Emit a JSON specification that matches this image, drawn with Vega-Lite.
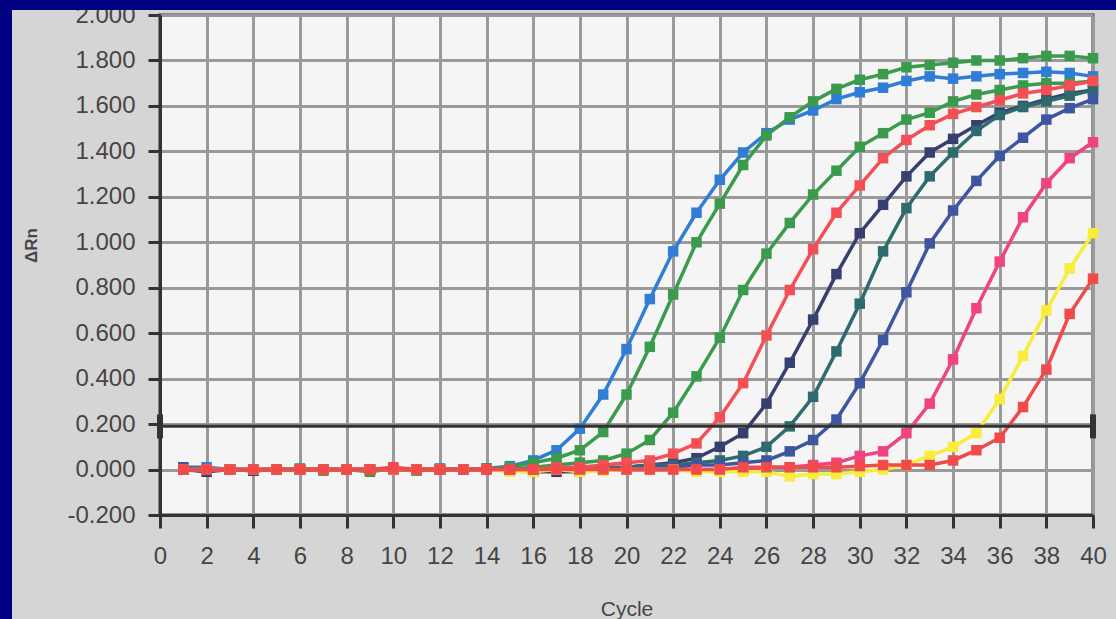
{
  "$schema": "https://vega.github.io/schema/vega-lite/v6.json",
  "width": 933,
  "height": 500,
  "autosize": {"type": "none"},
  "padding": {"left": 160, "top": 15, "right": 23, "bottom": 104},
  "background": "#d5d5d5",
  "config": {
    "view": {"fill": "#f5f5f5", "stroke": "#333333", "strokeWidth": 3},
    "font": "Liberation Sans"
  },
  "data": {
    "values": [
      {"c": 1, "blue": 0.01, "green1": 0.0, "green2": 0.0, "navy": 0.0, "teal": 0.0, "indigo": 0.01, "pink": 0.0, "yellow": 0.0, "red": 0.0, "red2": 0.0},
      {"c": 2, "blue": 0.01, "green1": 0.0, "green2": 0.0, "navy": -0.01, "teal": 0.0, "indigo": 0.0, "pink": 0.0, "yellow": 0.0, "red": 0.0, "red2": 0.0},
      {"c": 3, "blue": 0.0, "green1": 0.0, "green2": 0.0, "navy": 0.0, "teal": 0.0, "indigo": 0.0, "pink": 0.0, "yellow": 0.0, "red": 0.0, "red2": 0.0},
      {"c": 4, "blue": 0.0, "green1": -0.005, "green2": 0.0, "navy": -0.005, "teal": 0.0, "indigo": 0.0, "pink": 0.0, "yellow": 0.0, "red": 0.0, "red2": 0.0},
      {"c": 5, "blue": 0.0, "green1": 0.0, "green2": 0.0, "navy": 0.0, "teal": 0.0, "indigo": 0.0, "pink": 0.0, "yellow": 0.0, "red": 0.0, "red2": 0.0},
      {"c": 6, "blue": 0.0, "green1": 0.0, "green2": 0.005, "navy": 0.0, "teal": 0.0, "indigo": 0.0, "pink": 0.0, "yellow": 0.0, "red": 0.0, "red2": 0.0},
      {"c": 7, "blue": 0.0, "green1": -0.005, "green2": 0.0, "navy": 0.0, "teal": 0.0, "indigo": 0.0, "pink": 0.0, "yellow": 0.0, "red": 0.0, "red2": 0.0},
      {"c": 8, "blue": 0.0, "green1": 0.0, "green2": 0.0, "navy": 0.0, "teal": 0.0, "indigo": 0.0, "pink": 0.0, "yellow": 0.0, "red": 0.0, "red2": 0.0},
      {"c": 9, "blue": 0.0, "green1": -0.01, "green2": 0.0, "navy": 0.0, "teal": 0.0, "indigo": 0.0, "pink": 0.0, "yellow": 0.0, "red": 0.0, "red2": 0.0},
      {"c": 10, "blue": 0.0, "green1": 0.005, "green2": 0.0, "navy": 0.0, "teal": 0.0, "indigo": 0.0, "pink": 0.0, "yellow": 0.0, "red": 0.0, "red2": 0.01},
      {"c": 11, "blue": 0.0, "green1": -0.005, "green2": 0.0, "navy": 0.0, "teal": 0.0, "indigo": 0.0, "pink": 0.0, "yellow": 0.0, "red": 0.0, "red2": 0.0},
      {"c": 12, "blue": 0.005, "green1": 0.0, "green2": 0.0, "navy": 0.0, "teal": 0.0, "indigo": 0.0, "pink": 0.0, "yellow": 0.0, "red": 0.0, "red2": 0.0},
      {"c": 13, "blue": 0.0, "green1": 0.0, "green2": 0.0, "navy": 0.0, "teal": 0.0, "indigo": 0.0, "pink": 0.0, "yellow": 0.0, "red": 0.0, "red2": 0.0},
      {"c": 14, "blue": 0.005, "green1": 0.005, "green2": 0.0, "navy": 0.0, "teal": 0.0, "indigo": 0.0, "pink": 0.0, "yellow": 0.0, "red": 0.0, "red2": 0.0},
      {"c": 15, "blue": 0.015, "green1": 0.01, "green2": 0.0, "navy": -0.005, "teal": 0.0, "indigo": 0.0, "pink": 0.0, "yellow": -0.01, "red": 0.0, "red2": 0.0},
      {"c": 16, "blue": 0.04, "green1": 0.03, "green2": 0.01, "navy": -0.01, "teal": 0.0, "indigo": 0.0, "pink": 0.0, "yellow": -0.01, "red": 0.0, "red2": 0.0},
      {"c": 17, "blue": 0.085, "green1": 0.05, "green2": 0.02, "navy": -0.01, "teal": 0.0, "indigo": 0.0, "pink": 0.0, "yellow": 0.0, "red": 0.01, "red2": 0.0},
      {"c": 18, "blue": 0.18, "green1": 0.085, "green2": 0.03, "navy": -0.01, "teal": 0.0, "indigo": 0.0, "pink": 0.0, "yellow": -0.01, "red": 0.01, "red2": 0.0},
      {"c": 19, "blue": 0.33, "green1": 0.165, "green2": 0.04, "navy": 0.0, "teal": 0.01, "indigo": 0.0, "pink": 0.0, "yellow": -0.005, "red": 0.02, "red2": 0.0},
      {"c": 20, "blue": 0.53, "green1": 0.33, "green2": 0.07, "navy": 0.01, "teal": 0.01, "indigo": 0.0, "pink": 0.0, "yellow": 0.0, "red": 0.03, "red2": 0.0},
      {"c": 21, "blue": 0.75, "green1": 0.54, "green2": 0.13, "navy": 0.02, "teal": 0.02, "indigo": 0.01, "pink": 0.0, "yellow": 0.0, "red": 0.04, "red2": 0.0},
      {"c": 22, "blue": 0.96, "green1": 0.77, "green2": 0.25, "navy": 0.03, "teal": 0.02, "indigo": 0.01, "pink": 0.0, "yellow": 0.0, "red": 0.07, "red2": 0.0},
      {"c": 23, "blue": 1.13, "green1": 1.0, "green2": 0.41, "navy": 0.05, "teal": 0.03, "indigo": 0.02, "pink": 0.0, "yellow": -0.01, "red": 0.115, "red2": 0.0},
      {"c": 24, "blue": 1.275, "green1": 1.17, "green2": 0.58, "navy": 0.1, "teal": 0.04, "indigo": 0.02, "pink": 0.0, "yellow": -0.01, "red": 0.23, "red2": 0.0},
      {"c": 25, "blue": 1.395, "green1": 1.34, "green2": 0.79, "navy": 0.16, "teal": 0.06, "indigo": 0.03, "pink": 0.0, "yellow": -0.01, "red": 0.38, "red2": 0.01},
      {"c": 26, "blue": 1.48, "green1": 1.47, "green2": 0.95, "navy": 0.29, "teal": 0.1, "indigo": 0.04, "pink": 0.01, "yellow": -0.01, "red": 0.59, "red2": 0.01},
      {"c": 27, "blue": 1.54, "green1": 1.55, "green2": 1.085, "navy": 0.47, "teal": 0.19, "indigo": 0.08, "pink": 0.01, "yellow": -0.03, "red": 0.79, "red2": 0.01},
      {"c": 28, "blue": 1.58, "green1": 1.62, "green2": 1.21, "navy": 0.66, "teal": 0.32, "indigo": 0.13, "pink": 0.02, "yellow": -0.02, "red": 0.97, "red2": 0.01},
      {"c": 29, "blue": 1.63, "green1": 1.675, "green2": 1.315, "navy": 0.86, "teal": 0.52, "indigo": 0.22, "pink": 0.03, "yellow": -0.02, "red": 1.13, "red2": 0.01},
      {"c": 30, "blue": 1.66, "green1": 1.715, "green2": 1.42, "navy": 1.04, "teal": 0.73, "indigo": 0.38, "pink": 0.06, "yellow": -0.01, "red": 1.25, "red2": 0.015},
      {"c": 31, "blue": 1.68, "green1": 1.74, "green2": 1.48, "navy": 1.165, "teal": 0.96, "indigo": 0.57, "pink": 0.08, "yellow": 0.0, "red": 1.37, "red2": 0.02},
      {"c": 32, "blue": 1.71, "green1": 1.77, "green2": 1.54, "navy": 1.29, "teal": 1.15, "indigo": 0.78, "pink": 0.16, "yellow": 0.02, "red": 1.45, "red2": 0.02},
      {"c": 33, "blue": 1.73, "green1": 1.78, "green2": 1.57, "navy": 1.395, "teal": 1.29, "indigo": 0.995, "pink": 0.29, "yellow": 0.06, "red": 1.515, "red2": 0.02},
      {"c": 34, "blue": 1.72, "green1": 1.79, "green2": 1.62, "navy": 1.455, "teal": 1.395, "indigo": 1.14, "pink": 0.485, "yellow": 0.1, "red": 1.565, "red2": 0.04},
      {"c": 35, "blue": 1.73, "green1": 1.8, "green2": 1.65, "navy": 1.515, "teal": 1.49, "indigo": 1.27, "pink": 0.71, "yellow": 0.16, "red": 1.595, "red2": 0.085},
      {"c": 36, "blue": 1.74, "green1": 1.8, "green2": 1.67, "navy": 1.57, "teal": 1.56, "indigo": 1.38, "pink": 0.915, "yellow": 0.31, "red": 1.625, "red2": 0.14},
      {"c": 37, "blue": 1.745, "green1": 1.81, "green2": 1.69, "navy": 1.6, "teal": 1.595, "indigo": 1.46, "pink": 1.11, "yellow": 0.5, "red": 1.655, "red2": 0.275},
      {"c": 38, "blue": 1.75, "green1": 1.82, "green2": 1.7, "navy": 1.63, "teal": 1.62, "indigo": 1.54, "pink": 1.26, "yellow": 0.7, "red": 1.67, "red2": 0.44},
      {"c": 39, "blue": 1.745, "green1": 1.82, "green2": 1.7, "navy": 1.655, "teal": 1.645, "indigo": 1.59, "pink": 1.37, "yellow": 0.885, "red": 1.69, "red2": 0.685},
      {"c": 40, "blue": 1.73, "green1": 1.81, "green2": 1.71, "navy": 1.67, "teal": 1.67, "indigo": 1.63, "pink": 1.44, "yellow": 1.04, "red": 1.71, "red2": 0.84}
    ]
  },
  "layer": [
    {
      "data": {"values": [{"k": 1}]},
      "mark": {"type": "rect", "fill": "#000082", "opacity": 1, "clip": false},
      "encoding": {
        "x": {"datum": -7.5},
        "x2": {"datum": 42},
        "y": {"datum": 2.0222},
        "y2": {"datum": 2.4}
      }
    },
    {
      "data": {"values": [{"k": 1}]},
      "mark": {"type": "rect", "fill": "#000082", "opacity": 1, "clip": false},
      "encoding": {
        "x": {"datum": -7.5},
        "x2": {"datum": -6.345},
        "y": {"datum": -1.0},
        "y2": {"datum": 2.4}
      }
    },
    {
      "transform": [{"fold": ["blue", "green1", "green2", "navy", "teal", "indigo", "pink", "yellow", "red", "red2"], "as": ["s", "v"]}],
      "encoding": {
        "x": {
          "field": "c",
          "type": "quantitative",
          "scale": {"domain": [0, 40], "nice": false, "zero": false},
          "axis": {
            "values": [0,1,2,3,4,5,6,7,8,9,10,11,12,13,14,15,16,17,18,19,20,21,22,23,24,25,26,27,28,29,30,31,32,33,34,35,36,37,38,39,40],
            "labelExpr": "datum.value % 2 == 0 ? datum.label : ''",
            "labelOverlap": false,
            "labelFlush": false,
            "grid": true,
            "gridColor": "#9a9a9a",
            "gridWidth": 3,
            "tickSize": 13,
            "tickWidth": 3,
            "tickColor": "#333333",
            "domainColor": "#333333",
            "domainWidth": 3,
            "labelFont": "Liberation Sans",
            "labelFontSize": 24,
            "labelColor": "#454545",
            "labelPadding": 16,
            "title": "Cycle",
            "titleFont": "Liberation Sans",
            "titleFontSize": 21,
            "titleFontWeight": "normal",
            "titleColor": "#454545",
            "titlePadding": 30
          }
        },
        "y": {
          "field": "v",
          "type": "quantitative",
          "scale": {"domain": [-0.2, 2.0], "nice": false, "zero": false},
          "axis": {
            "values": [-0.2, 0, 0.2, 0.4, 0.6, 0.8, 1.0, 1.2, 1.4, 1.6, 1.8, 2.0],
            "format": ".3f",
            "labelExpr": "replace(datum.label, '\u2212', '-')",
            "grid": true,
            "gridColor": "#9a9a9a",
            "gridWidth": 3,
            "tickSize": 12,
            "tickWidth": 3,
            "tickColor": "#333333",
            "domainColor": "#333333",
            "domainWidth": 3,
            "labelFont": "Liberation Sans",
            "labelFontSize": 24,
            "labelColor": "#454545",
            "labelPadding": 13,
            "title": "ΔRn",
            "titleFont": "Liberation Sans",
            "titleFontSize": 17,
            "titleFontWeight": "bold",
            "titleColor": "#454545",
            "titlePadding": 26,
            "titleY": 230
          }
        }
      },
      "layer": [
        {
          "mark": {"type": "line", "strokeWidth": 3.5},
          "encoding": {
            "color": {
              "field": "s",
              "type": "nominal",
              "legend": null,
              "scale": {
                "domain": ["blue", "green1", "green2", "navy", "teal", "indigo", "pink", "yellow", "red", "red2"],
                "range": ["#2f7dd4", "#3a9b4c", "#3a9b4c", "#373f70", "#2d6b6f", "#3e55a0", "#f0437f", "#f8ec3c", "#f44f55", "#f04a4a"]
              }
            }
          }
        },
        {
          "mark": {"type": "point", "shape": "square", "filled": true, "size": 110, "opacity": 1},
          "encoding": {
            "color": {"field": "s", "type": "nominal", "legend": null}
          }
        }
      ]
    },
    {
      "data": {"values": [{"c": 0, "v": 0.19}, {"c": 40, "v": 0.19}]},
      "encoding": {
        "x": {"field": "c", "type": "quantitative"},
        "y": {"field": "v", "type": "quantitative"}
      },
      "layer": [
        {"mark": {"type": "line", "color": "#333333", "strokeWidth": 3}},
        {"mark": {"type": "tick", "orient": "vertical", "color": "#333333", "size": 24, "thickness": 6, "opacity": 1}}
      ]
    }
  ]
}
